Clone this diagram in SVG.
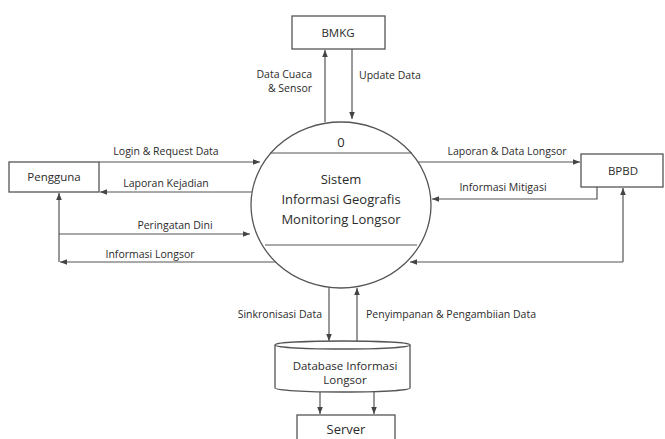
<svg xmlns="http://www.w3.org/2000/svg" width="665" height="439" viewBox="0 0 665 439">
<defs>
<marker id="ah" viewBox="0 0 10 10" refX="10" refY="5" markerWidth="7" markerHeight="7" orient="auto-start-reverse" markerUnits="userSpaceOnUse">
<path d="M0,1 L10,5 L0,9 z" fill="#444"/>
</marker>
<style>
.box{fill:#fff;stroke:#555;stroke-width:1.3}
.ln{fill:none;stroke:#555;stroke-width:1.2}
.t{font-family:"Open Sans","Noto Sans",sans-serif;font-size:10.5px;fill:#2b2b2b}
.n{font-family:"Open Sans","Noto Sans",sans-serif;font-size:11.5px;font-weight:500;fill:#2b2b2b;text-anchor:middle}
.p{font-family:"Open Sans","Noto Sans",sans-serif;font-size:13px;font-weight:500;fill:#2b2b2b;text-anchor:middle}
</style>
</defs>
<rect width="665" height="439" fill="#fff"/>
<g id="connectors">
<line class="ln" x1="325" y1="122" x2="325" y2="50" marker-end="url(#ah)"/>
<line class="ln" x1="352" y1="49" x2="352" y2="119" marker-end="url(#ah)"/>
<line class="ln" x1="99" y1="162" x2="260" y2="162" marker-end="url(#ah)"/>
<line class="ln" x1="252" y1="192" x2="100" y2="192" marker-end="url(#ah)"/>
<line class="ln" x1="59" y1="234" x2="250" y2="234" marker-end="url(#ah)"/>
<line class="ln" x1="59" y1="262" x2="59" y2="193" marker-end="url(#ah)"/>
<line class="ln" x1="276" y1="262" x2="60" y2="262" marker-end="url(#ah)"/>
<line class="ln" x1="412" y1="162" x2="580" y2="162" marker-end="url(#ah)"/>
<polyline class="ln" points="597,187 597,199 432,199" marker-end="url(#ah)"/>
<polyline class="ln" points="623,262 410,262" marker-end="url(#ah)"/>
<line class="ln" x1="623" y1="262" x2="623" y2="188" marker-end="url(#ah)"/>
<line class="ln" x1="329" y1="287" x2="329" y2="341" marker-end="url(#ah)"/>
<line class="ln" x1="357" y1="343" x2="357" y2="288" marker-end="url(#ah)"/>
<line class="ln" x1="320" y1="392" x2="320" y2="414" marker-end="url(#ah)"/>
<line class="ln" x1="374" y1="392" x2="374" y2="414" marker-end="url(#ah)"/>
<text class="t" x="312" y="78" text-anchor="end">Data Cuaca</text>
<text class="t" x="312" y="92" text-anchor="end">&amp; Sensor</text>
<text class="t" x="359" y="79">Update Data</text>
<text class="t" x="166" y="155" text-anchor="middle">Login &amp; Request Data</text>
<text class="t" x="166" y="187" text-anchor="middle">Laporan Kejadian</text>
<text class="t" x="175" y="229" text-anchor="middle">Peringatan Dini</text>
<text class="t" x="150" y="258" text-anchor="middle">Informasi Longsor</text>
<text class="t" x="507" y="155" text-anchor="middle">Laporan &amp; Data Longsor</text>
<text class="t" x="503" y="191" text-anchor="middle">Informasi Mitigasi</text>
<text class="t" x="322" y="318" text-anchor="end">Sinkronisasi Data</text>
<text class="t" x="366" y="318">Penyimpanan &amp; Pengambiian Data</text>
</g>
<g id="bmkg">
<rect class="box" x="292" y="16" width="93" height="33"/>
<text class="n" x="338" y="37">BMKG</text>
</g>
<g id="pengguna">
<rect class="box" x="9" y="162" width="90" height="30"/>
<text class="n" x="54" y="181">Pengguna</text>
</g>
<g id="bpbd">
<rect class="box" x="581" y="154" width="82" height="33"/>
<text class="n" x="623" y="175">BPBD</text>
</g>
<g id="process">
<ellipse class="box" cx="341" cy="205" rx="90" ry="83"/>
<line class="ln" x1="270" y1="153" x2="412" y2="153"/>
<line class="ln" x1="265" y1="245" x2="417" y2="245"/>
<text class="p" x="341" y="147">0</text>
<text class="p" x="341" y="184">Sistem</text>
<text class="p" x="341" y="204">Informasi Geografis</text>
<text class="p" x="341" y="224">Monitoring Longsor</text>
</g>
<g id="database">
<path class="box" d="M275,345 L275,388 A67.5,4 0 0 0 410,388 L410,345"/>
<ellipse class="box" cx="342.5" cy="345" rx="67.5" ry="4"/>
<text class="n" x="345" y="370">Database Informasi</text>
<text class="n" x="345" y="384">Longsor</text>
</g>
<g id="server">
<rect class="box" x="297" y="415" width="98" height="30"/>
<text class="p" x="346" y="434">Server</text>
</g>
</svg>
